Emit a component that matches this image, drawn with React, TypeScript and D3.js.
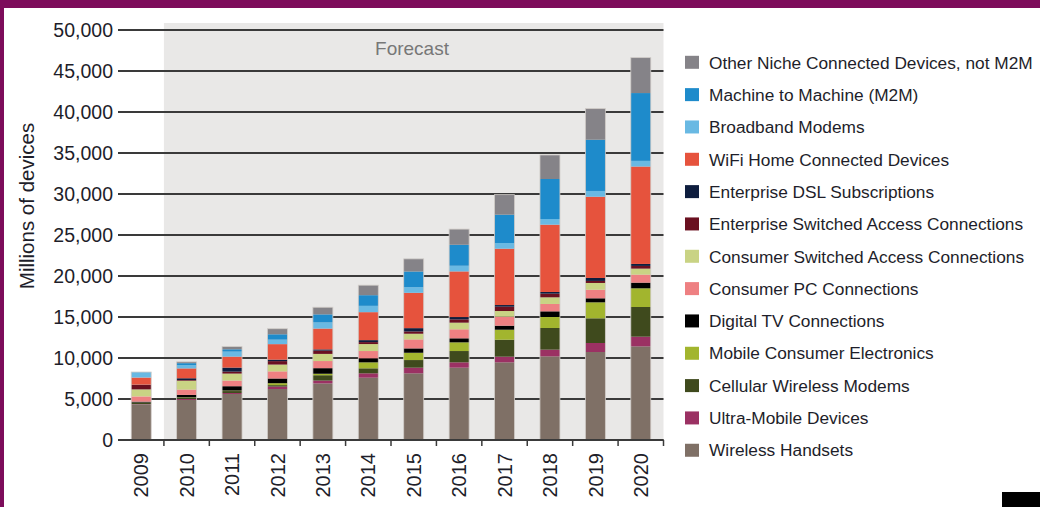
import React from "react";
import * as d3 from "d3";

const years = ["2009", "2010", "2011", "2012", "2013", "2014", "2015", "2016", "2017", "2018", "2019", "2020"];
const yTicks = [0, 5000, 10000, 15000, 20000, 25000, 30000, 35000, 40000, 45000, 50000];

// series, bottom to top (millions of devices)
const wirelessHandsets = [4350, 4880, 5610, 6220, 6900, 7600, 8130, 8820, 9470, 10200, 10730, 11420];
const ultraMobile = [30, 120, 120, 300, 350, 530, 690, 650, 690, 820, 1100, 1180];
const cellularModems = [150, 150, 240, 170, 650, 610, 930, 1380, 2070, 2640, 3010, 3620];
const mobileCE = [30, 50, 60, 240, 180, 730, 890, 1060, 1220, 1340, 1950, 2280];
const digitalTV = [120, 300, 530, 570, 680, 490, 530, 490, 490, 690, 490, 690];
const consumerPC = [640, 650, 690, 870, 870, 890, 1100, 1100, 1100, 900, 1050, 980];
const consumerSwitched = [850, 1080, 850, 830, 870, 850, 690, 810, 690, 810, 820, 730];
const enterpriseSwitched = [550, 80, 240, 420, 400, 240, 280, 400, 530, 450, 250, 330];
const enterpriseDSL = [30, 220, 490, 180, 150, 240, 400, 280, 200, 200, 360, 240];
const wifiHome = [870, 1200, 1340, 1890, 2540, 3410, 4310, 5570, 6870, 8210, 9910, 11880];
const broadband = [620, 400, 610, 550, 750, 770, 690, 690, 690, 690, 700, 690];
const m2m = [50, 240, 280, 650, 980, 1300, 1910, 2560, 3460, 4880, 6250, 8270];
const otherNiche = [0, 160, 330, 680, 870, 1220, 1540, 1910, 2440, 2930, 3790, 4320];

const seriesNames = [
  "Wireless Handsets",
  "Ultra-Mobile Devices",
  "Cellular Wireless Modems",
  "Mobile Consumer Electronics",
  "Digital TV Connections",
  "Consumer PC Connections",
  "Consumer Switched Access Connections",
  "Enterprise Switched Access Connections",
  "Enterprise DSL Subscriptions",
  "WiFi Home Connected Devices",
  "Broadband Modems",
  "Machine to Machine (M2M)",
  "Other Niche Connected Devices, not M2M",
];
const seriesValues = [
  wirelessHandsets, ultraMobile, cellularModems, mobileCE, digitalTV, consumerPC,
  consumerSwitched, enterpriseSwitched, enterpriseDSL, wifiHome, broadband, m2m, otherNiche,
];
const seriesColors = [
  "#7f7066", "#9b3163", "#3f4a1d", "#a2b52e", "#000000", "#ee8082",
  "#c9d384", "#6a1020", "#0e1d3e", "#e6533d", "#69b9e3", "#1e8bcb", "#858388",
];

const W = 1040;
const H = 507;
const FONT = "'Liberation Sans', Arial, Helvetica, sans-serif";
const TEXT = "#1e1e2a";

export default function App() {
  const x = d3.scaleBand<string>().domain(years).range([118.5, 663.5]).paddingInner(0.56).paddingOuter(0.28);
  const y = d3.scaleLinear().domain([0, 50000]).range([440, 30]);
  const step = x.step();
  const x0 = x.range()[0];

  const table = years.map((yr, i) => {
    const row: Record<string, any> = { year: yr };
    seriesNames.forEach((n, k) => (row[n] = seriesValues[k][i]));
    return row;
  });
  const stacked = d3.stack<any>().keys(seriesNames)(table);

  const legendOrder = seriesNames.map((n, k) => k).reverse();

  return (
    <svg width={W} height={H} style={{ position: "absolute", left: 0, top: 0, background: "#fff" }} fontFamily={FONT}>
      {/* frame */}
      <rect x={0} y={0} width={W} height={8} fill="#7d0c5b" />
      <rect x={0} y={0} width={4} height={H} fill="#7d0c5b" />
      <rect x={1002} y={492} width={38} height={15} fill="#000" />

      {/* forecast band */}
      <rect x={x0 + step} y={23} width={x.range()[1] - x0 - step} height={y(0) - 23} fill="#e9e8e7" />
      <text x={412} y={55} textAnchor="middle" fontSize={19} fill="#777">Forecast</text>

      {/* grid */}
      {yTicks.map((t) => (
        <g key={t}>
          <line x1={118} x2={663.5} y1={y(t)} y2={y(t)} stroke="#3a3a3a" strokeWidth={1.8} />
          <text x={113} y={y(t)} dy="0.35em" textAnchor="end" fontSize={19.5} fill={TEXT}>
            {d3.format(",")(t)}
          </text>
        </g>
      ))}

      {/* bars */}
      {stacked.map((s, k) => (
        <g key={s.key} fill={seriesColors[k]}>
          {s.map((d, i) => (
            <rect key={i} x={x(years[i])} y={y(d[1])} width={x.bandwidth()} height={Math.max(0, y(d[0]) - y(d[1]))} />
          ))}
        </g>
      ))}
      {years.map((yr, i) => {
        const top = stacked[stacked.length - 1][i][1];
        return (
          <rect key={yr} x={x(yr)} y={y(top)} width={x.bandwidth()} height={y(0) - y(top)} fill="none" stroke="#d0ccc8" strokeWidth={0.8} />
        );
      })}

      {/* x axis */}
      <line x1={118} x2={663.5} y1={y(0)} y2={y(0)} stroke="#3a3a3a" strokeWidth={1.8} />
      {years.map((yr, i) => (
        <line key={yr} x1={x0 + step * (i + 1)} x2={x0 + step * (i + 1)} y1={y(0)} y2={y(0) + 6} stroke="#3a3a3a" strokeWidth={1.5} />
      ))}
      {years.map((yr) => (
        <text key={yr} transform={`translate(${(x(yr) as number) + x.bandwidth() / 2},453) rotate(-90)`} textAnchor="end" dy="0.36em" fontSize={20} fill={TEXT}>
          {yr}
        </text>
      ))}

      {/* y title */}
      <text transform="translate(27,206) rotate(-90)" textAnchor="middle" dy="0.36em" fontSize={20.5} fill={TEXT}>
        Millions of devices
      </text>

      {/* legend */}
      {legendOrder.map((k, j) => {
        const cy = 62.3 + j * 32.33;
        return (
          <g key={k}>
            <rect x={685} y={cy - 6.5} width={14} height={13} fill={seriesColors[k]} />
            <text x={709} y={cy} dy="0.36em" fontSize={17.3} fill={TEXT}>{seriesNames[k]}</text>
          </g>
        );
      })}
    </svg>
  );
}
